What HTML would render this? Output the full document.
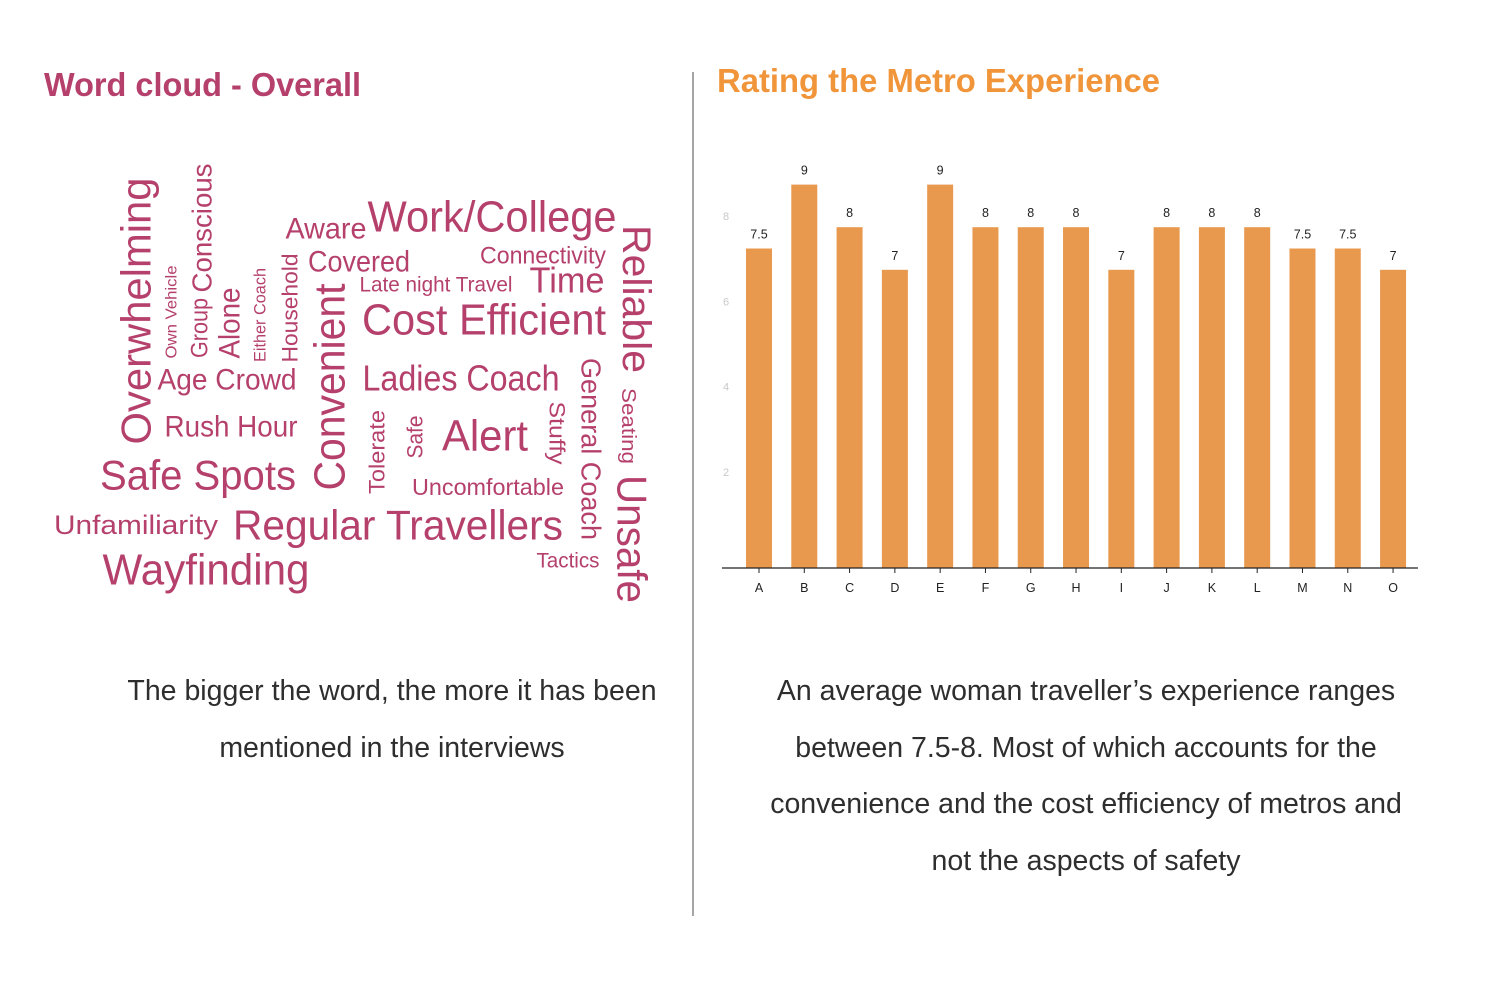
<!DOCTYPE html>
<html><head><meta charset="utf-8"><style>
html,body{margin:0;padding:0;background:#fff;}
body{width:1490px;height:990px;position:relative;overflow:hidden;font-family:"Liberation Sans",sans-serif;}
.cap{position:absolute;color:#2e2e2e;font-size:28.5px;text-align:center;line-height:56.5px;}
</style></head><body>
<svg width="1490" height="990" style="position:absolute;left:0;top:0">
<text x="44" y="96" font-size="33" font-weight="bold" fill="#b5406c" textLength="317" lengthAdjust="spacingAndGlyphs">Word cloud - Overall</text>
<text x="717" y="92" font-size="33" font-weight="bold" fill="#f0953a" textLength="443" lengthAdjust="spacingAndGlyphs">Rating the Metro Experience</text>
<line x1="693" y1="72" x2="693" y2="916" stroke="#888" stroke-width="1.5"/>
<g id="cloud"></g>
<g id="chart"></g>
</svg>
<div class="cap" style="left:40px;width:704px;top:663px">The bigger the word, the more it has been<br>mentioned in the interviews</div>
<div class="cap" style="left:700px;width:772px;top:663px">An average woman traveller’s experience ranges<br>between 7.5-8. Most of which accounts for the<br>convenience and the cost efficiency of metros and<br>not the aspects of safety</div>
<script>
const NS="http://www.w3.org/2000/svg";
// word cloud: [text, cx, cy, length, fontSize, rotation]
const words=[
["Overwhelming",136,311,267,42,-90],["Conscious",202,228,129,28,-90],["Group",200,328,60,24,-90],
["Own Vehicle",172,312,93,16,-90],["Alone",230,323,71,30,-90],["Either Coach",260,315,94,17,-90],
["Household",290,308,109,22,-90],["Convenient",330,387,207,44,-90],["Tolerate",377,452,84,22,-90],
["Safe",415,437,43,22,-90],["Aware",326,229,81,30,0],["Work/College",492,217,249,44,0],
["Connectivity",543,256,126,24,0],["Covered",359,262,102,30,0],["Late night Travel",436,285,153,21,0],
["Time",567,280,75,36,0],["Cost Efficient",484,320,244,44,0],["Ladies Coach",461,378,197,36,0],
["Age Crowd",227,380,139,30,0],["Rush Hour",231,427,133,30,0],["Alert",485,436,86,44,0],
["Safe Spots",198,475,196,42,0],["Uncomfortable",488,487,152,23,0],["Unfamiliarity",136,525,164,27,0],
["Regular Travellers",398,525,330,42,0],["Wayfinding",206,570,207,44,0],["Tactics",568,561,63,21,0],
["Reliable",636,299,148,40,90],["Seating",628,426,76,20,90],["Stuffy",557,433,63,22,90],
["General Coach",591,449,182,28,90],["Unsafe",632,539,128,42,90]];
const cloud=document.getElementById('cloud');
words.forEach(w=>{
 const t=document.createElementNS(NS,'text');
 
 
 t.setAttribute('x',0);t.setAttribute('y',0);
 t.setAttribute('text-anchor','middle');t.setAttribute('dominant-baseline','central');
 t.setAttribute('font-size',w[4]);t.setAttribute('fill','#b5406c');
 t.setAttribute('textLength',w[3]);t.setAttribute('lengthAdjust','spacingAndGlyphs');
 t.setAttribute('transform',`translate(${w[1]},${w[2]}) rotate(${w[5]})`);
 t.textContent=w[0];cloud.appendChild(t);
});
// chart data
const categories=["A","B","C","D","E","F","G","H","I","J","K","L","M","N","O"];
const values=[7.5,9,8,7,9,8,8,8,7,8,8,8,7.5,7.5,7];
const valueLabels=["7.5","9","8","7","9","8","8","8","7","8","8","8","7.5","7.5","7"];
const yTicks=[2,4,6,8];
const chart=document.getElementById('chart');
const base=568,unit=42.6,x0=759,step=45.29,bw=26;
const y=v=>base-v*unit, x=i=>x0+i*step;
function el(tag,attrs,name,txt){const e=document.createElementNS(NS,tag);for(const k in attrs)e.setAttribute(k,attrs[k]);
 
 
 if(txt!==undefined)e.textContent=txt;chart.appendChild(e);return e;}
yTicks.forEach(t=>el('text',{x:726,y:y(t)-11+4,'font-size':11,fill:'#c8c8c8','text-anchor':'middle'},'y-tick-label',t));
values.forEach((v,i)=>{
 el('rect',{x:x(i)-bw/2,y:y(v),width:bw,height:base-y(v),fill:'#e8994e'},'bar-'+categories[i]);
 el('text',{x:x(i),y:y(v)-10,'font-size':12.5,fill:'#222','text-anchor':'middle'},'bar-value-label',valueLabels[i]);
 el('line',{x1:x(i),y1:base,x2:x(i),y2:base+5,stroke:'#222','stroke-width':1},'x-tick');
 el('text',{x:x(i),y:base+24,'font-size':12.5,fill:'#222','text-anchor':'middle'},'x-tick-label',categories[i]);
});
el('line',{x1:722,y1:base,x2:1418,y2:base,stroke:'#222','stroke-width':1.3},'x-axis-line');
</script>
</body></html>
